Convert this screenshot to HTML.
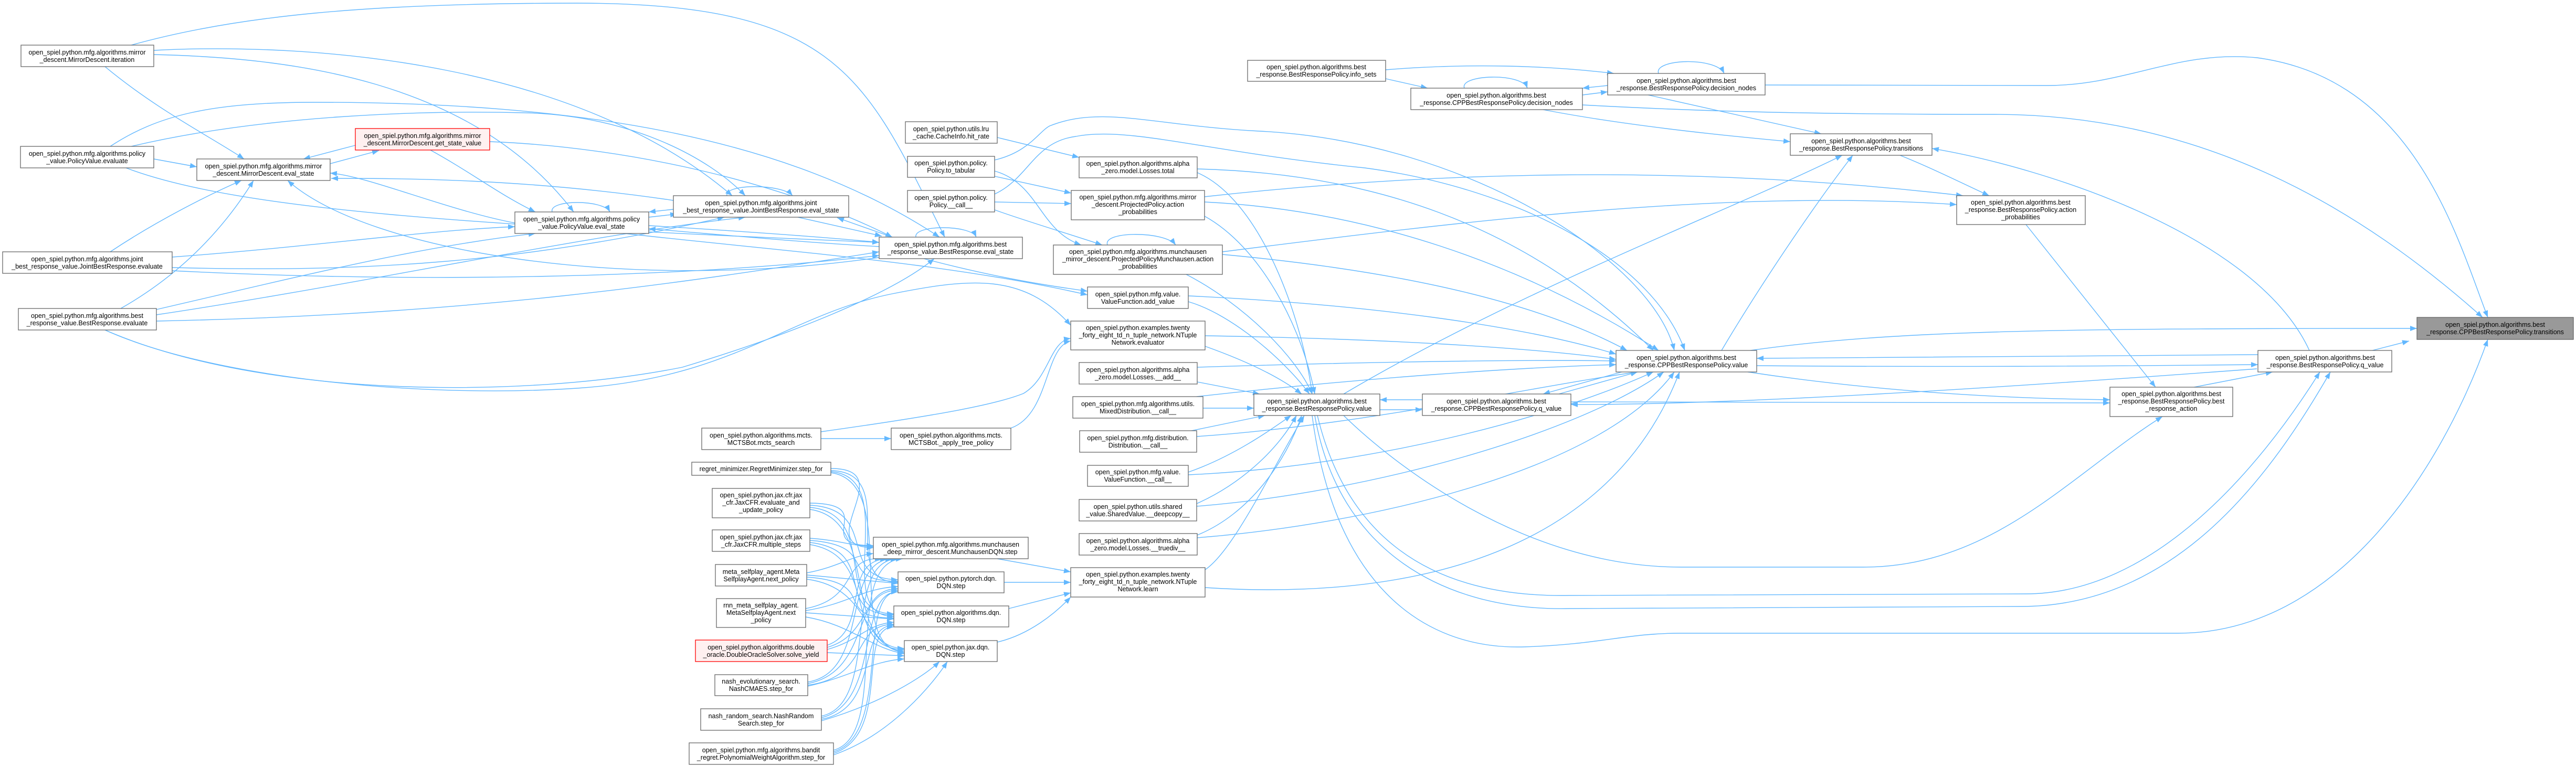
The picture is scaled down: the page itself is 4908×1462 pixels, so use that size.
<!DOCTYPE html>
<html><head><meta charset="utf-8"><style>
html,body{margin:0;padding:0;background:#fff;}
svg{display:block;}
text{font-family:"Liberation Sans",Arial,sans-serif;font-size:12.5px;fill:#000;text-anchor:middle;}
.e{fill:none;stroke:#63b8ff;stroke-width:1.4;}
rect{stroke:#666;stroke-width:1.3;fill:#fff;}
rect.r{stroke:#ff0000;fill:#fff0f0;}
rect.g{fill:#999;stroke:#666;}
</style></head><body>
<svg width="4908" height="1462" viewBox="0 0 4908 1462" xmlns="http://www.w3.org/2000/svg">
<defs><marker id="a" markerUnits="userSpaceOnUse" markerWidth="14" markerHeight="10" refX="13" refY="5" orient="auto"><path d="M0,0 L13,5 L0,10 z" fill="#63b8ff"/></marker></defs>
<g class="e" marker-end="url(#a)">
<!-- left cluster -->
<path d="M200,127 C300,210 400,260 465,303"/>
<path d="M293,303 L375,318"/>
<path d="M210,480 C300,420 400,370 460,344"/>
<path d="M230,588 C350,520 430,430 483,344"/>
<path d="M629,312 L722,287"/>
<path d="M677,277 L578,303"/>
<path d="M981,425 C850,400 700,335 629,330"/>
<path d="M1283,382 C1000,340 760,340 631,340"/>
<path d="M1680,490 C1200,560 700,480 548,344"/>
<path d="M250,86 C450,30 700,6 1100,6 C1600,6 1650,150 1800,452"/>
<path d="M293,96 C600,80 1100,120 1395,373"/>
<path d="M293,104 C550,110 900,150 1093,404"/>
<path d="M210,279 C300,220 400,195 600,195 C1100,195 1500,260 1790,452"/>
<path d="M250,279 C500,220 800,210 1000,215 C1200,220 1350,300 1420,373"/>
<path d="M240,320 C450,400 900,430 1675,462"/>
<path d="M933,270 C1200,280 1500,350 1700,452"/>
<path d="M820,286 C900,330 950,370 1020,404"/>
<path d="M328,490 C600,470 800,440 981,432"/>
<path d="M328,510 C700,520 1000,500 1380,414"/>
<path d="M328,516 C800,540 1300,530 1675,487"/>
<path d="M298,590 C600,520 800,470 1020,445"/>
<path d="M298,600 C700,540 1100,450 1420,414"/>
<path d="M298,612 C900,600 1300,540 1675,480"/>
<path d="M200,629 C500,760 1000,760 1300,700 C1500,640 1700,560 1780,493"/>
<path d="M1236,414 L1290,408"/>
<path d="M1283,399 L1236,404"/>
<path d="M1236,430 C1400,440 1550,450 1675,462"/>
<path d="M1675,470 C1500,460 1350,445 1236,436"/>
<path d="M1520,414 L1680,450"/>
<path d="M1700,452 L1595,415"/>
<path d="M1052,404 C1045,380 1150,380 1162,404"/>
<path d="M1385,373 C1380,350 1490,350 1510,373"/>
<path d="M1745,452 C1740,428 1850,428 1860,452"/>
<path d="M1760,493 C1900,530 2000,545 2072,555"/>
<path d="M1190,445 C1500,480 1800,500 2072,562"/>
<path d="M200,629 C400,720 800,760 1100,740 C1400,720 1500,600 1700,560 C1850,530 1950,520 2040,620"/>
<!-- middle -->
<path d="M1900,262 L2056,300"/>
<path d="M1895,336 L2041,368"/>
<path d="M1895,385 L2041,388"/>
<path d="M1895,326 C1980,350 1980,440 2060,467"/>
<path d="M1895,400 C1950,420 2050,450 2100,467"/>
<path d="M1895,305 C1960,290 1980,250 2000,240 C2100,200 2200,240 2400,250 C2800,270 3150,500 3190,668"/>
<path d="M1895,370 C1960,340 1970,270 2050,260 C2150,240 2300,290 2600,320 C2900,360 3150,500 3210,668"/>
<path d="M2110,467 C2100,440 2220,440 2240,467"/>
<path d="M2281,329 C2400,380 2480,600 2500,751"/>
<path d="M2295,412 C2400,470 2480,620 2505,751"/>
<path d="M2260,523 C2370,580 2470,680 2500,751"/>
<path d="M2264,575 C2350,600 2450,690 2495,751"/>
<path d="M2296,660 C2380,690 2440,720 2480,751"/>
<path d="M2281,728 L2400,751"/>
<path d="M2292,778 L2389,778"/>
<path d="M2270,821 L2410,792"/>
<path d="M2264,900 C2350,870 2420,820 2460,792"/>
<path d="M2280,960 C2370,920 2440,850 2470,792"/>
<path d="M2281,1020 C2380,980 2450,880 2480,792"/>
<path d="M2296,1086 C2350,1050 2420,900 2485,792"/>
<path d="M2281,322 C2600,330 2900,420 3150,668"/>
<path d="M2295,385 C2600,400 2900,500 3160,668"/>
<path d="M2329,485 C2600,510 2900,560 3100,668"/>
<path d="M2264,564 C2600,580 2900,620 3079,675"/>
<path d="M2296,640 C2600,645 2900,660 3079,685"/>
<path d="M2281,700 C2600,690 2900,685 3079,688"/>
<path d="M2280,756 C2600,720 2900,700 3079,695"/>
<path d="M2280,832 C2600,810 2900,740 3120,709"/>
<path d="M2264,905 C2600,890 2950,800 3150,709"/>
<path d="M2280,965 C2600,940 3000,830 3170,709"/>
<path d="M2281,1025 C2600,1000 3050,900 3190,709"/>
<path d="M2296,1120 C2600,1140 3050,1100 3200,709"/>
<path d="M1564,836 L1698,836"/>
<path d="M1564,823 C1800,790 1900,770 1950,750 C2000,720 2000,650 2040,645"/>
<path d="M1926,816 C2000,790 1990,660 2040,650"/>
<!-- fan -->
<path d="M1583,893 C1720,893 1540,1044 1664,1044"/><path d="M1583,897 C1720,900 1590,1110 1711,1110"/><path d="M1583,899 C1720,910 1580,1175 1703,1175"/><path d="M1583,901 C1720,920 1600,1241 1723,1241"/>
<path d="M1543,959 C1680,960 1540,1040 1664,1040"/><path d="M1543,963 C1680,970 1590,1105 1711,1105"/><path d="M1543,967 C1680,980 1580,1170 1703,1170"/><path d="M1543,971 C1680,990 1600,1236 1723,1236"/>
<path d="M1543,1026 C1600,1030 1620,1040 1664,1042"/><path d="M1543,1030 C1680,1040 1590,1108 1711,1108"/><path d="M1543,1034 C1680,1050 1580,1172 1703,1172"/><path d="M1543,1038 C1680,1060 1600,1238 1723,1238"/>
<path d="M1537,1092 C1600,1080 1620,1060 1664,1055"/><path d="M1537,1096 L1711,1112"/><path d="M1537,1100 C1680,1110 1580,1178 1703,1178"/><path d="M1537,1104 C1660,1120 1640,1232 1723,1244"/>
<path d="M1535,1160 C1640,1140 1600,1060 1680,1065"/><path d="M1535,1164 C1620,1150 1640,1122 1711,1118"/><path d="M1535,1168 L1703,1180"/><path d="M1535,1176 C1620,1190 1660,1236 1723,1246"/>
<path d="M1576,1230 C1660,1200 1600,1070 1690,1065"/><path d="M1576,1234 C1660,1210 1640,1122 1711,1122"/><path d="M1576,1238 C1640,1220 1650,1190 1703,1186"/><path d="M1576,1244 L1723,1250"/>
<path d="M1539,1300 C1660,1280 1600,1070 1700,1065"/><path d="M1539,1303 C1660,1280 1620,1125 1711,1125"/><path d="M1539,1306 C1660,1290 1620,1190 1703,1190"/><path d="M1539,1308 C1620,1290 1660,1260 1723,1256"/>
<path d="M1565,1365 C1680,1340 1600,1070 1710,1065"/><path d="M1565,1368 C1680,1340 1630,1128 1711,1128"/><path d="M1565,1371 C1680,1350 1630,1192 1703,1192"/><path d="M1565,1374 C1680,1340 1760,1290 1790,1261"/>
<path d="M1588,1430 C1700,1400 1600,1070 1720,1065"/><path d="M1588,1433 C1700,1400 1630,1128 1711,1128"/><path d="M1588,1436 C1700,1400 1630,1195 1703,1195"/><path d="M1588,1439 C1700,1400 1780,1300 1805,1261"/>
<path d="M1900,1065 L2040,1090"/>
<path d="M1913,1110 L2040,1110"/>
<path d="M1922,1160 L2040,1130"/>
<path d="M1900,1224 C1960,1210 2010,1170 2040,1138"/>
<!-- right side -->
<path d="M2629,781 L2710,781"/>
<path d="M2710,762 L2629,762"/>
<path d="M2970,751 L3120,709"/>
<path d="M3090,709 L2940,751"/>
<path d="M2640,133 C2800,120 2950,125 3075,140"/>
<path d="M2640,150 L2720,168"/>
<path d="M3015,181 L3063,175"/>
<path d="M3063,163 L3015,168"/>
<path d="M2790,168 C2780,142 2900,138 2910,168"/>
<path d="M3160,140 C3150,112 3270,108 3285,140"/>
<path d="M3363,162 L3900,163 C4050,163 4150,95 4300,110 C4600,150 4680,450 4740,605"/>
<path d="M3015,200 C3200,210 3400,218 3800,218 C4200,218 4500,400 4730,605"/>
<path d="M3140,181 L3470,255"/>
<path d="M2940,209 C3100,240 3300,260 3411,270"/>
<path d="M2295,375 C2700,330 3200,310 3740,373"/>
<path d="M2329,480 C2800,420 3300,360 3728,390"/>
<path d="M3620,296 C3680,320 3740,350 3790,373"/>
<path d="M3860,428 L4107,738"/>
<path d="M4400,668 C4300,450 3900,320 3681,283"/>
<path d="M2560,751 C2900,550 3300,400 3510,296"/>
<path d="M3280,668 C3350,550 3450,400 3530,296"/>
<path d="M3335,668 C3600,630 3900,626 4605,626"/>
<path d="M4302,676 C4000,678 3600,682 3347,683"/>
<path d="M3347,697 C3700,700 4000,698 4302,695"/>
<path d="M4300,703 C3800,740 3300,772 2993,771"/>
<path d="M4180,738 L4330,709"/>
<path d="M4520,668 L4590,650"/>
<path d="M3330,709 C3600,750 3850,760 4020,762"/>
<path d="M2993,766 C3400,768 3800,768 4020,768"/>
<path d="M2560,792 C2650,880 2900,1081 3203,1081 L3550,1081 C3800,1081 3950,900 4120,794"/>
<path d="M2510,792 C2560,1000 2700,1140 2990,1135 C3200,1132 3500,1132 3860,1132 C4100,1132 4300,900 4420,709"/>
<path d="M2505,792 C2550,1050 2750,1165 2990,1160 C3300,1156 3600,1156 3850,1156 C4150,1156 4330,900 4440,709"/>
<path d="M2500,792 C2540,1100 2700,1240 2906,1233 C3050,1228 3100,1207 3200,1207 L4150,1207 C4450,1207 4650,900 4740,647"/>
</g>
<!-- nodes -->
<g>
<rect x="40" y="86" width="253" height="41"/><text x="166" y="104">open_spiel.python.mfg.algorithms.mirror<tspan x="166" dy="14">_descent.MirrorDescent.iteration</tspan></text>
<rect x="39" y="279" width="254" height="41"/><text x="166" y="297">open_spiel.python.mfg.algorithms.policy<tspan x="166" dy="14">_value.PolicyValue.evaluate</tspan></text>
<rect x="375" y="303" width="254" height="41"/><text x="502" y="321">open_spiel.python.mfg.algorithms.mirror<tspan x="502" dy="14">_descent.MirrorDescent.eval_state</tspan></text>
<rect class="r" x="677" y="245" width="256" height="41"/><text x="805" y="263">open_spiel.python.mfg.algorithms.mirror<tspan x="805" dy="14">_descent.MirrorDescent.get_state_value</tspan></text>
<rect x="5" y="480" width="323" height="41"/><text x="166" y="498">open_spiel.python.mfg.algorithms.joint<tspan x="166" dy="14">_best_response_value.JointBestResponse.evaluate</tspan></text>
<rect x="35" y="588" width="263" height="41"/><text x="166" y="606">open_spiel.python.mfg.algorithms.best<tspan x="166" dy="14">_response_value.BestResponse.evaluate</tspan></text>
<rect x="981" y="404" width="255" height="41"/><text x="1108" y="422">open_spiel.python.mfg.algorithms.policy<tspan x="1108" dy="14">_value.PolicyValue.eval_state</tspan></text>
<rect x="1283" y="373" width="334" height="41"/><text x="1450" y="391">open_spiel.python.mfg.algorithms.joint<tspan x="1450" dy="14">_best_response_value.JointBestResponse.eval_state</tspan></text>
<rect x="1675" y="452" width="273" height="41"/><text x="1811" y="470">open_spiel.python.mfg.algorithms.best<tspan x="1811" dy="14">_response_value.BestResponse.eval_state</tspan></text>
<rect x="1725" y="232" width="175" height="41"/><text x="1812" y="250">open_spiel.python.utils.lru<tspan x="1812" dy="14">_cache.CacheInfo.hit_rate</tspan></text>
<rect x="1729" y="298" width="166" height="40"/><text x="1812" y="315">open_spiel.python.policy.<tspan x="1812" dy="14">Policy.to_tabular</tspan></text>
<rect x="1729" y="363" width="166" height="41"/><text x="1812" y="381">open_spiel.python.policy.<tspan x="1812" dy="14">Policy.__call__</tspan></text>
<rect x="2056" y="299" width="225" height="40"/><text x="2168" y="316">open_spiel.python.algorithms.alpha<tspan x="2168" dy="14">_zero.model.Losses.total</tspan></text>
<rect x="2041" y="363" width="254" height="56"/><text x="2168" y="380">open_spiel.python.mfg.algorithms.mirror<tspan x="2168" dy="14">_descent.ProjectedPolicy.action</tspan><tspan x="2168" dy="14">_probabilities</tspan></text>
<rect x="2007" y="467" width="322" height="56"/><text x="2168" y="484">open_spiel.python.mfg.algorithms.munchausen<tspan x="2168" dy="14">_mirror_descent.ProjectedPolicyMunchausen.action</tspan><tspan x="2168" dy="14">_probabilities</tspan></text>
<rect x="2072" y="547" width="192" height="41"/><text x="2168" y="565">open_spiel.python.mfg.value.<tspan x="2168" dy="14">ValueFunction.add_value</tspan></text>
<rect x="2040" y="612" width="256" height="55"/><text x="2168" y="629">open_spiel.python.examples.twenty<tspan x="2168" dy="14">_forty_eight_td_n_tuple_network.NTuple</tspan><tspan x="2168" dy="14">Network.evaluator</tspan></text>
<rect x="2056" y="691" width="225" height="41"/><text x="2168" y="709">open_spiel.python.algorithms.alpha<tspan x="2168" dy="14">_zero.model.Losses.__add__</tspan></text>
<rect x="2044" y="756" width="248" height="41"/><text x="2168" y="774">open_spiel.python.mfg.algorithms.utils.<tspan x="2168" dy="14">MixedDistribution.__call__</tspan></text>
<rect x="2057" y="821" width="223" height="41"/><text x="2168" y="839">open_spiel.python.mfg.distribution.<tspan x="2168" dy="14">Distribution.__call__</tspan></text>
<rect x="2072" y="887" width="192" height="40"/><text x="2168" y="904">open_spiel.python.mfg.value.<tspan x="2168" dy="14">ValueFunction.__call__</tspan></text>
<rect x="2056" y="952" width="224" height="41"/><text x="2168" y="970">open_spiel.python.utils.shared<tspan x="2168" dy="14">_value.SharedValue.__deepcopy__</tspan></text>
<rect x="2056" y="1017" width="225" height="41"/><text x="2168" y="1035">open_spiel.python.algorithms.alpha<tspan x="2168" dy="14">_zero.model.Losses.__truediv__</tspan></text>
<rect x="2040" y="1082" width="256" height="56"/><text x="2168" y="1099">open_spiel.python.examples.twenty<tspan x="2168" dy="14">_forty_eight_td_n_tuple_network.NTuple</tspan><tspan x="2168" dy="14">Network.learn</tspan></text>
<rect x="1337" y="816" width="227" height="41"/><text x="1450" y="834">open_spiel.python.algorithms.mcts.<tspan x="1450" dy="14">MCTSBot.mcts_search</tspan></text>
<rect x="1698" y="816" width="228" height="41"/><text x="1812" y="834">open_spiel.python.algorithms.mcts.<tspan x="1812" dy="14">MCTSBot._apply_tree_policy</tspan></text>
<rect x="1318" y="881" width="265" height="25"/><text x="1450" y="898">regret_minimizer.RegretMinimizer.step_for</text>
<rect x="1357" y="931" width="186" height="56"/><text x="1450" y="948">open_spiel.python.jax.cfr.jax<tspan x="1450" dy="14">_cfr.JaxCFR.evaluate_and</tspan><tspan x="1450" dy="14">_update_policy</tspan></text>
<rect x="1357" y="1010" width="186" height="41"/><text x="1450" y="1028">open_spiel.python.jax.cfr.jax<tspan x="1450" dy="14">_cfr.JaxCFR.multiple_steps</tspan></text>
<rect x="1363" y="1076" width="174" height="41"/><text x="1450" y="1094">meta_selfplay_agent.Meta<tspan x="1450" dy="14">SelfplayAgent.next_policy</tspan></text>
<rect x="1365" y="1141" width="170" height="55"/><text x="1450" y="1158">rnn_meta_selfplay_agent.<tspan x="1450" dy="14">MetaSelfplayAgent.next</tspan><tspan x="1450" dy="14">_policy</tspan></text>
<rect class="r" x="1325" y="1220" width="251" height="41"/><text x="1450" y="1238">open_spiel.python.algorithms.double<tspan x="1450" dy="14">_oracle.DoubleOracleSolver.solve_yield</tspan></text>
<rect x="1362" y="1286" width="177" height="40"/><text x="1450" y="1303">nash_evolutionary_search.<tspan x="1450" dy="14">NashCMAES.step_for</tspan></text>
<rect x="1335" y="1351" width="230" height="41"/><text x="1450" y="1369">nash_random_search.NashRandom<tspan x="1450" dy="14">Search.step_for</tspan></text>
<rect x="1313" y="1416" width="275" height="41"/><text x="1450" y="1434">open_spiel.python.mfg.algorithms.bandit<tspan x="1450" dy="14">_regret.PolynomialWeightAlgorithm.step_for</tspan></text>
<rect x="1664" y="1024" width="295" height="41"/><text x="1811" y="1042">open_spiel.python.mfg.algorithms.munchausen<tspan x="1811" dy="14">_deep_mirror_descent.MunchausenDQN.step</tspan></text>
<rect x="1711" y="1090" width="202" height="40"/><text x="1812" y="1107">open_spiel.python.pytorch.dqn.<tspan x="1812" dy="14">DQN.step</tspan></text>
<rect x="1703" y="1155" width="219" height="40"/><text x="1812" y="1172">open_spiel.python.algorithms.dqn.<tspan x="1812" dy="14">DQN.step</tspan></text>
<rect x="1723" y="1221" width="177" height="40"/><text x="1811" y="1238">open_spiel.python.jax.dqn.<tspan x="1811" dy="14">DQN.step</tspan></text>
<rect x="2389" y="751" width="240" height="41"/><text x="2509" y="769">open_spiel.python.algorithms.best<tspan x="2509" dy="14">_response.BestResponsePolicy.value</tspan></text>
<rect x="2710" y="751" width="283" height="41"/><text x="2851" y="769">open_spiel.python.algorithms.best<tspan x="2851" dy="14">_response.CPPBestResponsePolicy.q_value</tspan></text>
<rect x="3079" y="668" width="268" height="41"/><text x="3213" y="686">open_spiel.python.algorithms.best<tspan x="3213" dy="14">_response.CPPBestResponsePolicy.value</tspan></text>
<rect x="2377" y="115" width="263" height="40"/><text x="2508" y="132">open_spiel.python.algorithms.best<tspan x="2508" dy="14">_response.BestResponsePolicy.info_sets</tspan></text>
<rect x="2688" y="168" width="327" height="41"/><text x="2851" y="186">open_spiel.python.algorithms.best<tspan x="2851" dy="14">_response.CPPBestResponsePolicy.decision_nodes</tspan></text>
<rect x="3063" y="140" width="300" height="41"/><text x="3213" y="158">open_spiel.python.algorithms.best<tspan x="3213" dy="14">_response.BestResponsePolicy.decision_nodes</tspan></text>
<rect x="3411" y="255" width="270" height="41"/><text x="3546" y="273">open_spiel.python.algorithms.best<tspan x="3546" dy="14">_response.BestResponsePolicy.transitions</tspan></text>
<rect x="3728" y="373" width="245" height="55"/><text x="3850" y="390">open_spiel.python.algorithms.best<tspan x="3850" dy="14">_response.BestResponsePolicy.action</tspan><tspan x="3850" dy="14">_probabilities</tspan></text>
<rect x="4020" y="738" width="234" height="56"/><text x="4137" y="755">open_spiel.python.algorithms.best<tspan x="4137" dy="14">_response.BestResponsePolicy.best</tspan><tspan x="4137" dy="14">_response_action</tspan></text>
<rect x="4302" y="668" width="255" height="41"/><text x="4430" y="686">open_spiel.python.algorithms.best<tspan x="4430" dy="14">_response.BestResponsePolicy.q_value</tspan></text>
<rect class="g" x="4605" y="605" width="298" height="42"/><text x="4754" y="623">open_spiel.python.algorithms.best<tspan x="4754" dy="14">_response.CPPBestResponsePolicy.transitions</tspan></text>
</g>
</svg>
</body></html>
